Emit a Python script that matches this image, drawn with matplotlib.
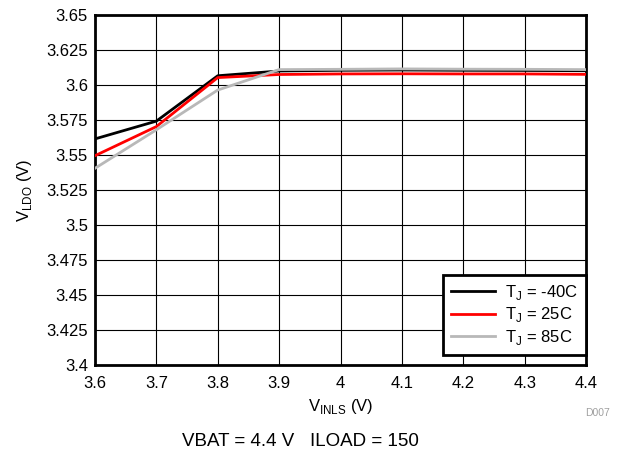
import matplotlib
matplotlib.use("Agg")
import matplotlib.pyplot as plt

vin = [3.6, 3.7, 3.8, 3.9, 4.0, 4.1, 4.2, 4.3, 4.4]
v_m40 = [3.5615, 3.5742, 3.6066, 3.6100, 3.6105, 3.6107, 3.6105, 3.6104, 3.6102]
v_25 = [3.5495, 3.5703, 3.6053, 3.6075, 3.6079, 3.6080, 3.6079, 3.6079, 3.6076]
v_85 = [3.5405, 3.5680, 3.5964, 3.6110, 3.6112, 3.6115, 3.6113, 3.6112, 3.6110]
labels = [r"T$_\mathregular{J}$ = -40C", r"T$_\mathregular{J}$ = 25C", r"T$_\mathregular{J}$ = 85C"]
xticks = [3.6, 3.7, 3.8, 3.9, 4.0, 4.1, 4.2, 4.3, 4.4]
xticklabels = ["3.6", "3.7", "3.8", "3.9", "4", "4.1", "4.2", "4.3", "4.4"]
yticks = [3.4, 3.425, 3.45, 3.475, 3.5, 3.525, 3.55, 3.575, 3.6, 3.625, 3.65]
yticklabels = ["3.4", "3.425", "3.45", "3.475", "3.5", "3.525", "3.55", "3.575", "3.6", "3.625", "3.65"]

plt.rcParams['font.family'] = ['Liberation Sans', 'DejaVu Sans']
W, H = 627, 453
fig = plt.figure(figsize=(W/100, H/100), dpi=100)
L, R, T, B = 95, 586, 15, 365
ax = fig.add_axes([L/W, 1-B/H, (R-L)/W, (B-T)/H])
ax.plot(vin, v_m40, color="black", lw=2, label=labels[0], zorder=3)
ax.plot(vin, v_25, color="#ff0000", lw=2, label=labels[1], zorder=3)
ax.plot(vin, v_85, color="#b8b8b8", lw=2, label=labels[2], zorder=3)
ax.set_xlim(3.6, 4.4)
ax.set_ylim(3.4, 3.65)
ax.set_xticks(xticks)
ax.set_xticklabels(xticklabels, fontsize=12)
ax.set_yticks(yticks)
ax.set_yticklabels(yticklabels, fontsize=12)
ax.grid(True, color="black", lw=0.8)
ax.tick_params(length=0)
ax.tick_params(axis="x", pad=8)
ax.tick_params(axis="y", pad=5)
for s in ax.spines.values():
    s.set_linewidth(2)
ax.set_xlabel(r"V$_\mathregular{INLS}$ (V)", fontsize=12, labelpad=4)
ax.set_ylabel(r"V$_\mathregular{LDO}$ (V)", fontsize=12, labelpad=9)
leg = ax.legend(loc="lower right", fontsize=12, fancybox=False, framealpha=1,
                edgecolor="black", bbox_to_anchor=(1.0, 10/350), borderaxespad=0,
                handlelength=2.6, handletextpad=0.6,
                labelspacing=0.2, borderpad=0.5)
leg.get_frame().set_linewidth(2)
fig.text(598/W, 1-413/H, "D007", fontsize=7.5, color="#a0a0a0", ha="center", va="center")
fig.text(300/W, 1-442/H, "VBAT = 4.4 V   ILOAD = 150", fontsize=13.5, ha="center", va="center")
fig.savefig("out.png", dpi=100)
